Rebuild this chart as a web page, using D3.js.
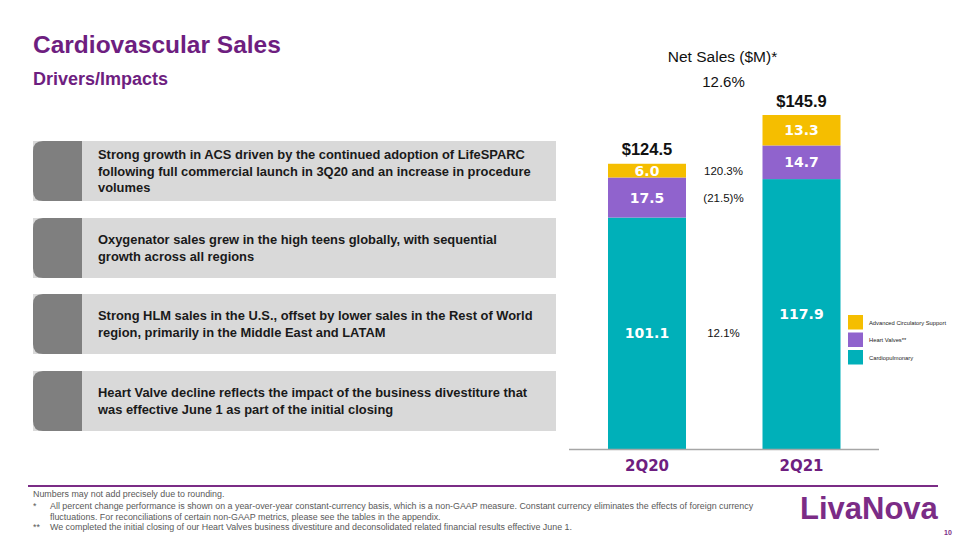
<!DOCTYPE html>
<html><head><meta charset="utf-8">
<script src="https://cdn.jsdelivr.net/npm/d3@7"></script>
<style>body{margin:0;background:#fff}svg{display:block}</style>
</head><body>
<script>
const categories = ["2Q20", "2Q21"];
const seriesNames = ["Cardiopulmonary", "Heart Valves**", "Advanced Circulatory Support"];
const cardiopulmonary = [101.1, 117.9];
const heartValves = [17.5, 14.7];
const acs = [6.0, 13.3];
const totals = ["$124.5", "$145.9"];
const totalValues = [124.5, 145.9];
const seriesGrowth = ["12.1%", "(21.5)%", "120.3%"];
const totalGrowth = "12.6%";
const bullets = [
  ["Strong growth in ACS driven by the continued adoption of LifeSPARC", "following full commercial launch in 3Q20 and an increase in procedure", "volumes"],
  ["Oxygenator sales grew in the high teens globally, with sequential", "growth across all regions"],
  ["Strong HLM sales in the U.S., offset by lower sales in the Rest of World", "region, primarily in the Middle East and LATAM"],
  ["Heart Valve decline reflects the impact of the business divestiture that", "was effective June 1 as part of the initial closing"]
];
const footnotes = [
  ["", "Numbers may not add precisely due to rounding."],
  ["*", "All percent change performance is shown on a year-over-year constant-currency basis, which is a non-GAAP measure. Constant currency eliminates the effects of foreign currency"],
  ["", "fluctuations. For reconciliations of certain non-GAAP metrics, please see the tables in the appendix."],
  ["**", "We completed the initial closing of our Heart Valves business divestiture and deconsolidated related financial results effective June 1."]
];

const colors = ["#00B0B9", "#9063CD", "#F5BE00"];
const purple = "#6E1E80";
const W = 960, H = 540;
const svg = d3.select("body").append("svg").attr("width", W).attr("height", H);

// Titles
svg.append("text").attr("x", 33).attr("y", 53).text("Cardiovascular Sales")
  .attr("font-family", "Liberation Sans, Arial").attr("font-weight", "bold").attr("font-size", 24.5).attr("fill", purple);
svg.append("text").attr("x", 33).attr("y", 85).text("Drivers/Impacts")
  .attr("font-family", "Liberation Sans, Arial").attr("font-weight", "bold").attr("font-size", 18).attr("fill", purple);

// Bullet boxes
const boxTops = [141, 218, 294, 371];
bullets.forEach((lines, i) => {
  const g = svg.append("g").attr("transform", `translate(33,${boxTops[i]})`);
  g.append("rect").attr("x", 0).attr("y", 0).attr("width", 523).attr("height", 60).attr("fill", "#D9D9D9");
  g.append("path").attr("d", "M49,0 H10 Q0,0 0,10 V50 Q0,60 10,60 H49 Z").attr("fill", "#7F7F7F");
  const lh = 16.5;
  const y0 = 30 - (lines.length - 1) * lh / 2 + 4.5;
  lines.forEach((t, j) => {
    g.append("text").attr("x", 65).attr("y", y0 + j * lh).text(t)
      .attr("font-family", "Liberation Sans, Arial").attr("font-weight", "bold")
      .attr("font-size", 12.9).attr("fill", "#1a1a1a");
  });
});

// Chart
const y = d3.scaleLinear().domain([0, 145.9]).range([449, 115]);
const x = d3.scalePoint().domain(categories).range([647, 801.5]);
const bw = 78;
const table = categories.map((c, i) => ({cat: c, Cardiopulmonary: cardiopulmonary[i], "Heart Valves**": heartValves[i], "Advanced Circulatory Support": acs[i]}));
const stack = d3.stack().keys(seriesNames)(table);

stack.forEach((layer, si) => {
  layer.forEach(d => {
    svg.append("rect").attr("x", x(d.data.cat) - bw / 2).attr("y", y(d[1]))
      .attr("width", bw).attr("height", y(d[0]) - y(d[1])).attr("fill", colors[si]);
    svg.append("text").attr("x", x(d.data.cat)).attr("y", (y(d[0]) + y(d[1])) / 2 + 5)
      .attr("text-anchor", "middle").text((d[1] - d[0]).toFixed(1))
      .attr("font-family", "DejaVu Sans, Verdana").attr("font-weight", "bold")
      .attr("font-size", 14).attr("fill", "#fff");
  });
});

// Series growth labels aligned with 2Q20 segment centers
stack.forEach((layer, si) => {
  const d = layer[0];
  svg.append("text").attr("x", 723.5).attr("y", (y(d[0]) + y(d[1])) / 2 + 4)
    .attr("text-anchor", "middle").text(seriesGrowth[si])
    .attr("font-family", "Liberation Sans, Arial").attr("font-size", 11.5).attr("fill", "#111");
});

// Totals
categories.forEach((c, i) => {
  svg.append("text").attr("x", x(c)).attr("y", y(totalValues[i]) - 8.5).attr("text-anchor", "middle")
    .text(totals[i]).attr("font-family", "Liberation Sans, Arial").attr("font-weight", "bold")
    .attr("font-size", 16.5).attr("fill", "#111");
});

svg.append("text").attr("x", 722.5).attr("y", 62).attr("text-anchor", "middle").text("Net Sales ($M)*")
  .attr("font-family", "Liberation Sans, Arial").attr("font-size", 15.5).attr("fill", "#111");
svg.append("text").attr("x", 723.5).attr("y", 87).attr("text-anchor", "middle").text(totalGrowth)
  .attr("font-family", "Liberation Sans, Arial").attr("font-size", 15).attr("fill", "#111");

// Axis
const axisG = svg.append("g").attr("transform", "translate(0,449.5)");
axisG.append("line").attr("x1", 569).attr("x2", 879).attr("stroke", "#A6A6A6").attr("stroke-width", 1.5);
categories.forEach(c => {
  axisG.append("text").attr("x", x(c)).attr("y", 21.5).attr("text-anchor", "middle").text(c)
    .attr("font-family", "DejaVu Sans, Verdana").attr("font-weight", "bold").attr("font-size", 15).attr("fill", purple);
});

// Legend
const legOrder = [2, 1, 0];
legOrder.forEach((si, k) => {
  const ly = 315 + k * 17.5;
  svg.append("rect").attr("x", 848).attr("y", ly).attr("width", 15).attr("height", 14.5).attr("fill", colors[si]);
  svg.append("text").attr("x", 869).attr("y", ly + 9.5).text(seriesNames[si])
    .attr("font-family", "Liberation Sans, Arial").attr("font-size", 5.8).attr("fill", "#222");
});

// Bottom rule
svg.append("line").attr("x1", 28).attr("x2", 938).attr("y1", 486).attr("y2", 486).attr("stroke", "#7B2C86").attr("stroke-width", 2);

// Footnotes
const fy = [497, 508.5, 519.5, 530];
footnotes.forEach((f, i) => {
  if (f[0]) svg.append("text").attr("x", 33).attr("y", fy[i]).text(f[0])
    .attr("font-family", "Liberation Sans, Arial").attr("font-size", 8.9).attr("fill", "#595959");
  svg.append("text").attr("x", i === 0 ? 33 : 50).attr("y", fy[i]).text(f[1])
    .attr("font-family", "Liberation Sans, Arial").attr("font-size", 8.9).attr("fill", "#595959");
});

// Logo
svg.append("text").attr("x", 800).attr("y", 519).text("LivaNova")
  .attr("font-family", "Liberation Sans, Arial").attr("font-weight", "bold").attr("font-size", 31).attr("fill", "#7B2C86");
svg.append("text").attr("x", 944).attr("y", 535).text("10")
  .attr("font-family", "Liberation Sans, Arial").attr("font-weight", "bold").attr("font-size", 7).attr("fill", "#7B2C86");
</script>
</body></html>
